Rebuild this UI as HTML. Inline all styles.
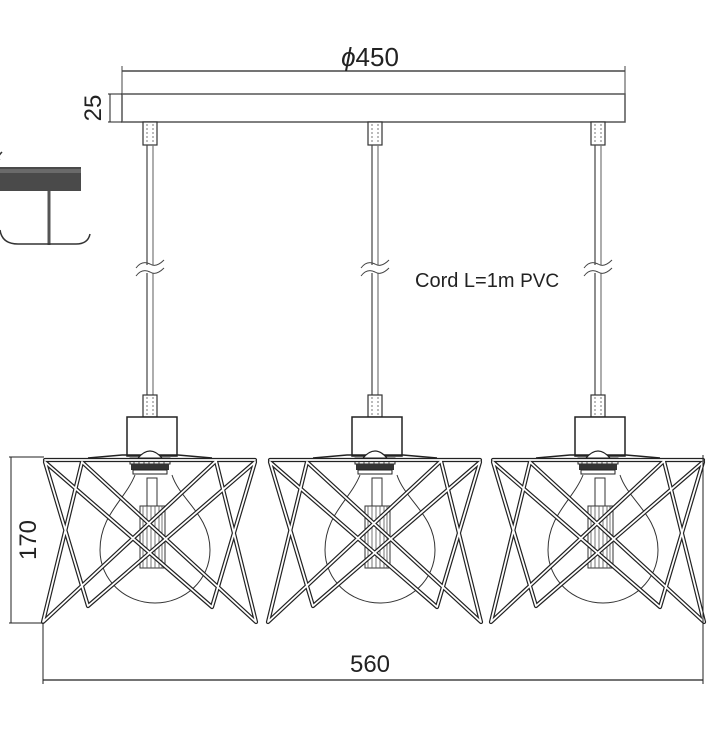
<!DOCTYPE html>
<html><head><meta charset="utf-8"><style>
html,body{margin:0;padding:0;background:#fff;width:720px;height:740px;overflow:hidden}
svg{display:block}
text{font-family:"Liberation Sans",sans-serif;fill:#222}
</style></head><body>
<svg width="720" height="740" viewBox="0 0 720 740" xmlns="http://www.w3.org/2000/svg">
<defs>
<path id="cgp" d="M45 460 L255 460 M45 462 L88 606 L255 462 M82 462 L43 622 L216 461 M255 462 L212 607 L45 462 M216 461 L256 622 L82 462"/>
<g id="lamp">
  <rect x="143" y="122" width="14" height="23" fill="#fff" stroke="#333" stroke-width="1.2"/>
  <line x1="147" y1="124" x2="147" y2="143" stroke="#777" stroke-dasharray="2,2"/>
  <line x1="153" y1="124" x2="153" y2="143" stroke="#777" stroke-dasharray="2,2"/>
  <line x1="147" y1="145" x2="147" y2="395" stroke="#444" stroke-width="1.2"/>
  <line x1="153" y1="145" x2="153" y2="395" stroke="#777" stroke-width="1.2"/>
  <rect x="138" y="265" width="24" height="8" fill="#fff"/>
  <path d="M136 268 q6 -8 14 -4 q6 4 14 -4 M136 276 q6 -8 14 -4 q6 4 14 -4" fill="none" stroke="#444" stroke-width="1"/>
  <rect x="143" y="395" width="14" height="22" fill="#fff" stroke="#333" stroke-width="1.2"/>
  <line x1="147" y1="397" x2="147" y2="415" stroke="#777" stroke-dasharray="2,2"/>
  <line x1="153" y1="397" x2="153" y2="415" stroke="#777" stroke-dasharray="2,2"/>
  <rect x="127" y="417" width="50" height="39" fill="#fff" stroke="#222" stroke-width="1.5"/>
  <path d="M88 458 L122 455 L178 455 L212 458" fill="none" stroke="#222" stroke-width="1.5"/>
  <path d="M138 458 q12 -14 24 0" fill="#fff" stroke="#222" stroke-width="1.2"/>
  <rect x="130" y="458" width="40" height="6" fill="#fff" stroke="#222" stroke-width="1"/>
  <path d="M134 458 V464 M139 458 V464 M144 458 V464 M149 458 V464 M154 458 V464 M159 458 V464 M164 458 V464" stroke="#222" stroke-width="0.8"/>
  <rect x="131" y="464" width="38" height="6" fill="#333"/>
  <rect x="133" y="470" width="34" height="4" fill="#fff" stroke="#222"/>
  <path d="M135 475 C125 500 100 515 100 550 C100 580 125 603 155 603 C185 603 210 580 210 550 C210 515 180 500 172 475" fill="none" stroke="#333" stroke-width="1"/>
  <rect x="147" y="478" width="10" height="28" fill="#fff" stroke="#333"/>
  <rect x="140" y="506" width="25" height="62" fill="#fff" stroke="#333"/>
  <path d="M143 506 V568 M147 506 V568 M151 506 V568 M155 506 V568 M159 506 V568 M162 506 V568" stroke="#555" stroke-width="0.8"/>
  <g fill="none" stroke-linejoin="round" stroke-linecap="round">
    <use href="#cgp" stroke="#222" stroke-width="4.2"/>
    <use href="#cgp" stroke="#fff" stroke-width="1.8"/>
  </g>
</g>
</defs>

<line x1="122" y1="71" x2="625" y2="71" stroke="#222" stroke-width="1.2"/>
<line x1="122" y1="66" x2="122" y2="94" stroke="#444" stroke-width="1"/>
<line x1="625" y1="66" x2="625" y2="94" stroke="#444" stroke-width="1"/>
<text x="370" y="66" font-size="26" text-anchor="middle"><tspan font-style="italic">ϕ</tspan>450</text>
<rect x="122" y="94" width="503" height="28" fill="#fff" stroke="#555" stroke-width="1.5"/>
<line x1="110" y1="94" x2="110" y2="122" stroke="#222" stroke-width="1"/>
<line x1="108" y1="94" x2="122" y2="94" stroke="#222"/>
<line x1="108" y1="122" x2="122" y2="122" stroke="#222"/>
<text transform="translate(101,108) rotate(-90)" font-size="24" text-anchor="middle">25</text>

<rect x="0" y="167" width="81" height="24" fill="#4a4a4a"/>
<rect x="0" y="169" width="81" height="4" fill="#6a6a6a"/>
<line x1="49" y1="191" x2="49" y2="245" stroke="#555" stroke-width="3"/>
<path d="M2 152 Q-4 158 0 160" fill="none" stroke="#333" stroke-width="1.5"/>
<path d="M0 230 Q2 244 18 244 L76 244 Q88 244 90 234" fill="none" stroke="#333" stroke-width="1.5"/>

<use href="#lamp"/>
<use href="#lamp" transform="translate(225,0)"/>
<use href="#lamp" transform="translate(448,0)"/>

<text x="415" y="287" font-size="20">Cord L=1m <tspan font-size="19">PVC</tspan></text>

<line x1="11" y1="457" x2="11" y2="623" stroke="#222" stroke-width="1"/>
<line x1="9" y1="457" x2="44" y2="457" stroke="#222"/>
<line x1="9" y1="623" x2="44" y2="623" stroke="#222"/>
<text transform="translate(36,540) rotate(-90)" font-size="24" text-anchor="middle">170</text>

<line x1="43" y1="623" x2="43" y2="684" stroke="#222"/>
<line x1="703" y1="455" x2="703" y2="684" stroke="#222"/>
<line x1="43" y1="680" x2="703" y2="680" stroke="#222" stroke-width="1.2"/>
<text x="370" y="672" font-size="24" text-anchor="middle">560</text>
</svg>
</body></html>
